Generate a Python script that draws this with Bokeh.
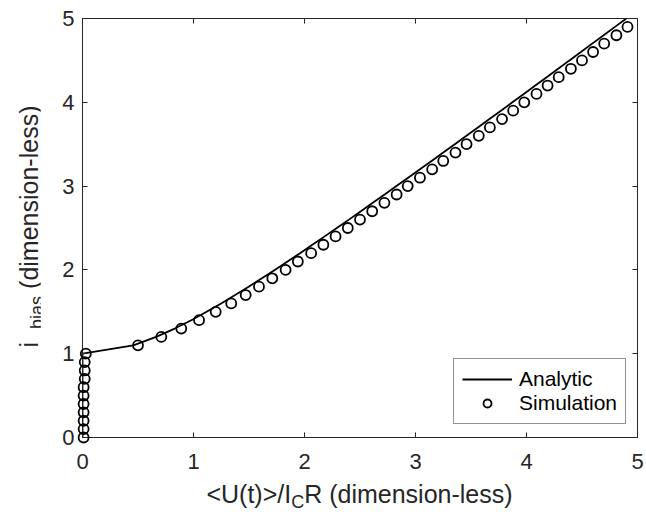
from bokeh.plotting import figure
from bokeh.models import Range1d, FixedTicker, LinearAxis, Legend, LegendItem, Div
from bokeh.layouts import row, column
from bokeh.embed import file_html
from bokeh.resources import INLINE

# ---------------- data ----------------
analytic_bias = [0.0, 0.1, 0.2, 0.3, 0.4, 0.5, 0.6, 0.7, 0.8, 0.9, 1.0,
                 1.1, 1.2, 1.3, 1.4, 1.5, 1.6, 1.7, 1.8, 1.9, 2.0,
                 2.1, 2.2, 2.3, 2.4, 2.5, 2.6, 2.7, 2.8, 2.9, 3.0,
                 3.1, 3.2, 3.3, 3.4, 3.5, 3.6, 3.7, 3.8, 3.9, 4.0,
                 4.1, 4.2, 4.3, 4.4, 4.5, 4.6, 4.7, 4.8, 4.9, 5.0]
analytic_v = [0.0, 0.0, 0.0, 0.0, 0.0, 0.0, 0.0, 0.0, 0.0, 0.0, 0.0,
              0.458, 0.663, 0.831, 0.980, 1.118, 1.249, 1.375, 1.497, 1.616, 1.732,
              1.847, 1.960, 2.071, 2.182, 2.291, 2.400, 2.508, 2.615, 2.722, 2.828,
              2.934, 3.040, 3.145, 3.250, 3.354, 3.459, 3.562, 3.666, 3.770, 3.873,
              3.976, 4.079, 4.182, 4.285, 4.387, 4.490, 4.592, 4.695, 4.797, 4.899]

sim_bias = [0.0, 0.1, 0.2, 0.3, 0.4, 0.5, 0.6, 0.7, 0.8, 0.9, 1.0,
            1.1, 1.2, 1.3, 1.4, 1.5, 1.6, 1.7, 1.8, 1.9, 2.0,
            2.1, 2.2, 2.3, 2.4, 2.5, 2.6, 2.7, 2.8, 2.9, 3.0,
            3.1, 3.2, 3.3, 3.4, 3.5, 3.6, 3.7, 3.8, 3.9, 4.0,
            4.1, 4.2, 4.3, 4.4, 4.5, 4.6, 4.7, 4.8, 4.9]
sim_v = [0.01, 0.01, 0.01, 0.01, 0.01, 0.01, 0.01, 0.02, 0.02, 0.02, 0.03,
         0.50, 0.71, 0.89, 1.05, 1.20, 1.34, 1.47, 1.59, 1.71, 1.83,
         1.94, 2.06, 2.17, 2.28, 2.39, 2.50, 2.61, 2.72, 2.83, 2.93,
         3.04, 3.15, 3.25, 3.36, 3.46, 3.57, 3.67, 3.78, 3.88, 3.98,
         4.09, 4.19, 4.29, 4.40, 4.50, 4.60, 4.70, 4.81, 4.91]

ticks = [0, 1, 2, 3, 4, 5]
tick_labels = ["0", "1", "2", "3", "4", "5"]
series_names = ["Analytic", "Simulation"]
x_title = ("&lt;U(t)&gt;/I", "C", "R (dimension-less)")
y_title = ("i", "bias", " (dimension-less)")

# ---------------- layout ----------------
DY = 40                     # width of the y-title strip
PW, PH = 606, 477           # figure size
L, R, T, B = 42, 9, 18, 40  # borders around the frame
FW, FH = PW - L - R, PH - T - B
XH = 35                     # height of the x-title strip
AX = "#262626"
FONT = "Liberation Sans"
TS, SS = 25, 18             # title / subscript font sizes

p = figure(width=PW, height=PH, output_backend="svg", toolbar_location=None,
           x_range=Range1d(0, 5), y_range=Range1d(0, 5),
           min_border_left=L, min_border_right=R, min_border_top=T, min_border_bottom=B)
p.background_fill_color = "white"
p.border_fill_color = "white"
p.outline_line_color = AX
p.outline_line_width = 1
p.xgrid.visible = False
p.ygrid.visible = False

def style_axis(ax, show_labels, standoff):
    ax.ticker = FixedTicker(ticks=ticks)
    ax.major_tick_in = 5
    ax.major_tick_out = 0
    ax.minor_tick_line_color = None
    ax.axis_line_color = AX
    ax.major_tick_line_color = AX
    ax.major_label_text_font = FONT
    ax.major_label_text_color = AX
    ax.major_label_text_font_size = "22px"
    ax.major_label_standoff = standoff
    if show_labels:
        ax.major_label_overrides = {t: s for t, s in zip(ticks, tick_labels)}
    else:
        ax.major_label_overrides = {t: "" for t in ticks}
        ax.major_label_standoff = 0

style_axis(p.xaxis[0], True, 16)
style_axis(p.yaxis[0], True, 8)
top = LinearAxis()
right = LinearAxis()
style_axis(top, False, 0)
style_axis(right, False, 0)
p.add_layout(top, "above")
p.add_layout(right, "right")

line_r = p.line(analytic_v, analytic_bias, line_color="black", line_width=1.8)
sim_r = p.scatter(sim_v, sim_bias, marker="circle", size=10, fill_color=None,
                  line_color="black", line_width=1.8)
sim_r.level = "overlay"   # markers may overlap the axes, as in the original

legend = Legend(items=[LegendItem(label=series_names[0], renderers=[line_r]),
                       LegendItem(label=series_names[1], renderers=[sim_r])],
                location=(371, 13), glyph_width=50, glyph_height=20,
                label_standoff=7, padding=8, spacing=0, margin=0,
                label_text_font=FONT, label_text_font_size="21px",
                label_text_color="black", border_line_color=AX, border_line_width=1,
                background_fill_alpha=1.0)
p.add_layout(legend, "center")

# ---------------- axis titles (HTML text with real subscripts) ----------------
frame_cx = L + FW / 2.0            # frame centre, in x-strip coordinates
box_w = 420
x_html = (
    f'<div style="margin-left:{frame_cx - box_w / 2:.1f}px; width:{box_w}px; margin-top:5px; '
    f'text-align:center; font-family:\'{FONT}\'; font-size:{TS}px; line-height:{TS}px; '
    f'color:{AX}; white-space:nowrap;">{x_title[0]}'
    f'<span style="font-size:{SS}px; position:relative; top:5px;">{x_title[1]}</span>'
    f'{x_title[2]}</div>'
)
div_x = Div(text=x_html, width=PW, height=XH, margin=0)

frame_cy = T + FH / 2.0
ycx = 29.3
y_html = (
    f'<div style="width:{box_w}px; height:30px; line-height:30px; text-align:center; '
    f'font-family:\'{FONT}\'; font-size:{TS}px; color:{AX}; white-space:nowrap; '
    f'transform-origin:center center; '
    f'transform:translate({ycx - box_w / 2:.1f}px, {frame_cy - 16:.1f}px) rotate(-90deg);">'
    f'{y_title[0]}<span style="font-size:{SS}px; position:relative; top:5px; '
    f'margin-left:13px;">{y_title[1]}</span>'
    f'{y_title[2]}</div>'
)
div_y = Div(text=y_html, width=DY, height=PH + XH, margin=0)

layout = row(div_y, column(p, div_x))
open("out.html", "w").write(file_html(layout, INLINE))
